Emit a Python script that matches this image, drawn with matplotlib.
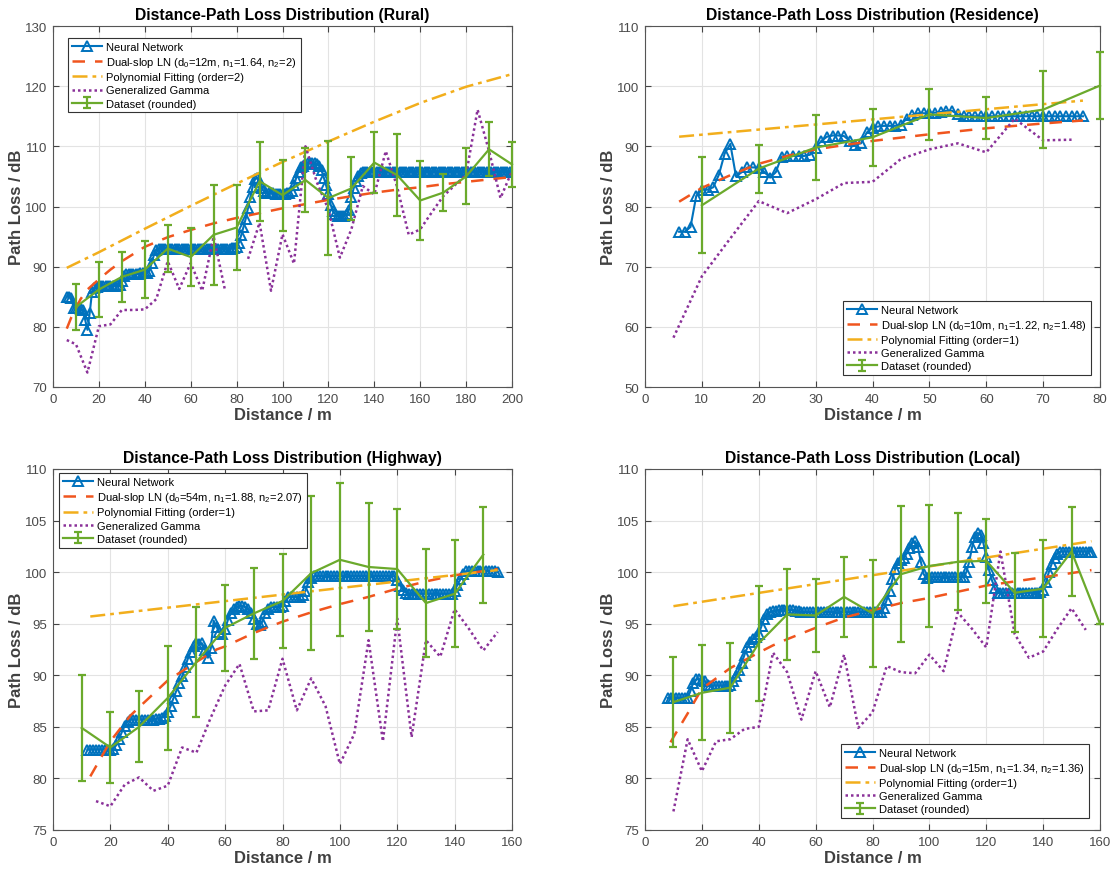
import numpy as np
import matplotlib
matplotlib.use('Agg')
import matplotlib.pyplot as plt

plt.rcParams['font.family'] = ['Liberation Sans', 'DejaVu Sans']
plt.rcParams['mathtext.fontset'] = 'custom'
plt.rcParams['mathtext.rm'] = 'Liberation Sans'
plt.rcParams['mathtext.it'] = 'Liberation Sans:italic'
plt.rcParams['mathtext.bf'] = 'Liberation Sans:bold'

nan = np.nan

# ---------------- Rural ----------------
rural_nn_x = list(range(6, 201))
rural_nn_y = [85.0, 85.0, 84.8, 83.2, 83.2, 83.2, 83.0, 82.8, 81.2, 79.5, 82.3, 85.8, 86.5, 86.7, 86.8,
              86.8, 86.8, 86.8, 86.8, 86.8, 86.8, 86.8, 86.9, 87.0, 87.6,
              88.5, 88.8, 88.8, 88.8, 88.8, 88.8, 88.8, 88.9, 88.9, 88.9,
              89.0, 89.3, 90.6, 92.0, 92.8, 93.0, 93.0, 93.0, 93.0, 93.0,
              93.0, 93.0, 93.0, 93.0, 93.0, 93.0, 93.0, 93.0, 93.0, 93.0,
              93.0, 93.0, 93.0, 93.0, 93.0, 93.0, 93.0, 93.0, 93.0, 93.0,
              93.0, 93.0, 93.0, 93.0, 93.0, 93.0, 93.0, 93.1, 93.1, 93.3,
              94.0, 95.2, 96.6, 98.0, 99.8, 101.6, 103.3, 104.5, 104.8, 104.0,
              103.0, 102.5, 102.3, 102.2, 102.2, 102.2, 102.1, 102.1, 102.1, 102.1,
              102.1, 102.2, 102.3, 102.6, 103.5, 104.8, 105.8, 106.5, 106.8, 107.0,
              107.2, 107.3, 107.3, 107.2, 107.0, 106.8, 106.0, 104.8, 103.5, 102.0,
              100.3, 99.2, 98.7, 98.5, 98.5, 98.5, 98.5, 98.7, 99.5, 101.5,
              103.0, 104.2, 105.0, 105.5, 105.7, 105.8, 105.8, 105.8, 105.8, 105.8,
              105.8, 105.8, 105.8, 105.8, 105.8, 105.8, 105.8, 105.8, 105.8, 105.8,
              105.8, 105.8, 105.8, 105.8, 105.8, 105.8, 105.8, 105.8, 105.8, 105.8,
              105.8, 105.8, 105.8, 105.8, 105.8, 105.8, 105.8, 105.8, 105.8, 105.8,
              105.8, 105.8, 105.8, 105.8, 105.8, 105.8, 105.8, 105.8, 105.8, 105.8,
              105.8, 105.8, 105.8, 105.8, 105.8, 105.8, 105.8, 105.8, 105.8, 105.8,
              105.8, 105.8, 105.8, 105.8, 105.8, 105.8, 105.8, 105.8, 105.8, 105.8]
rural_ds_x = [6, 8, 10, 12, 15, 20, 25, 30, 40, 50, 60, 70, 80, 90, 100, 110, 120, 130, 140, 150, 160, 170, 180, 190, 200]
rural_ds_y = [79.7, 81.6, 83.1, 84.6, 86.2, 87.9, 89.5, 90.9, 93.3, 94.9, 96.1, 97.2, 98.1, 98.9, 99.7,
              100.4, 101.1, 101.7, 102.3, 102.8, 103.2, 103.7, 104.1, 104.5, 104.9]
rural_poly_x = [6, 20, 40, 60, 80, 100, 120, 140, 160, 180, 200]
rural_poly_y = [89.8, 92.4, 96.3, 100.1, 103.8, 107.4, 110.8, 114.1, 117.2, 119.9, 122.0]
rural_gg_x = [6, 10, 15, 20, 25, 30, 35, 40, 45, 50, 55, 60, 65, 70, 75, 80, 85, 90, 95, 100,
              105, 110, 115, 120, 125, 130, 135, 140, 145, 150, 155, 160, 165, 170, 175, 180, 185, 190, 195, 200]
rural_gg_y = [77.8, 77.1, 72.4, 80.1, 80.4, 82.8, 82.8, 82.9, 84.6, 90.9, 86.3, 90.6, 86.0, 95.0, 86.0,
              nan, 91.3, 97.3, 86.0, 95.4, 90.5, 110.0, 104.0, 99.5, 91.5, 96.2, 103.4, 102.0, 109.2, 103.2,
              95.3, 96.2, 99.0, 101.7, 103.5, 105.3, 116.1, 109.2, 101.4, 105.9]
rural_data_x = [10, 20, 30, 40, 50, 60, 70, 80, 90, 100, 110, 120, 130, 140, 150, 160, 170, 180, 190, 200]
rural_data_y = [83.3, 86.2, 88.3, 89.5, 93.0, 91.6, 95.3, 96.5, 104.2, 101.9, 104.4, 101.4, 103.0, 107.3,
                105.2, 101.0, 102.3, 105.0, 109.5, 107.0]
rural_data_err = [3.9, 4.6, 4.2, 4.7, 3.85, 4.8, 8.3, 7.1, 6.6, 5.9, 5.3, 9.45, 5.2, 5.05, 6.85, 6.55,
                  3.1, 4.65, 4.5, 3.75]

# ---------------- Residence ----------------
res_nn_x = list(range(6, 78))
res_nn_y = [75.8, 75.8, 76.6, 81.7, 82.8, 82.8, 83.2, 85.3, 88.8, 90.4, 85.0, 85.7, 86.5, 86.5, 86.4,
            85.7, 84.8, 85.7, 88.3, 88.4, 88.4, 88.4, 88.4, 88.6, 89.8, 90.9, 91.6, 91.8, 91.8, 91.7,
            90.9, 90.3, 90.5, 92.3, 93.1, 93.3, 93.4, 93.4, 93.4, 93.6, 94.6, 95.2, 95.5, 95.5, 95.5,
            95.6, 95.7, 95.9, 95.9, 95.3, 95.0, 95.0, 95.0, 95.0, 95.0, 95.0, 95.0, 95.0, 95.0, 95.0,
            95.0, 95.0, 95.0, 95.0, 95.0, 95.0, 95.0, 95.0, 95.0, 95.0, 95.0, 95.0]
res_ds_x = [6, 10, 15, 20, 25, 30, 40, 50, 60, 70, 77]
res_ds_y = [80.8, 83.1, 85.2, 87.1, 88.4, 89.5, 90.9, 92.0, 93.0, 93.8, 94.3]
res_poly_x = [6, 77]
res_poly_y = [91.6, 97.6]
res_gg_x = [5, 10, 15, 20, 25, 30, 35, 40, 45, 50, 55, 60, 65, 70, 75]
res_gg_y = [58.2, 68.4, 74.7, 80.9, 78.9, 81.2, 83.9, 84.1, 87.9, 89.5, 90.5, 89.0, 94.6, 91.0, 91.1]
res_data_x = [10, 20, 30, 40, 50, 60, 70, 80]
res_data_y = [80.2, 86.3, 89.8, 91.5, 95.3, 94.7, 96.1, 100.1]
res_data_err = [8.0, 4.0, 5.4, 4.75, 4.2, 3.5, 6.4, 5.6]

# ---------------- Highway ----------------
hw_nn_x = list(range(12, 156))
hw_nn_y = [82.8, 82.8, 82.8, 82.8, 82.8, 82.8, 82.8, 82.8, 82.8,
           82.9, 83.2, 83.8, 84.5, 85.1, 85.5, 85.7, 85.7, 85.7, 85.7,
           85.7, 85.7, 85.7, 85.7, 85.7, 85.8, 85.8, 85.9, 86.1, 86.4,
           87.0, 87.8, 88.5, 89.3, 89.9, 90.8, 91.6, 92.3, 92.8, 93.1,
           93.0, 93.1, 92.5, 91.7, 92.6, 95.3, 94.7, 94.2, 94.0, 94.5,
           95.4, 96.0, 96.4, 96.6, 96.7, 96.7, 96.6, 96.4, 96.0, 95.5,
           95.0, 94.9, 95.2, 96.0, 96.4, 96.6, 96.6, 96.6, 96.6, 96.7,
           97.2, 97.6, 97.6, 97.6, 97.6, 97.6, 97.8, 98.2, 99.0, 99.4,
           99.6, 99.6, 99.6, 99.6, 99.6, 99.6, 99.6, 99.6, 99.6, 99.6,
           99.6, 99.6, 99.6, 99.6, 99.6, 99.6, 99.6, 99.6, 99.6, 99.6,
           99.6, 99.6, 99.6, 99.6, 99.6, 99.6, 99.6, 99.6, 99.6, 99.2,
           98.7, 98.3, 98.0, 97.9, 97.9, 97.9, 97.9, 97.9, 97.9, 97.9,
           97.9, 97.9, 97.9, 97.9, 97.9, 97.9, 97.9, 97.9, 97.9, 98.2,
           98.8, 99.3, 99.8, 100.1, 100.1, 100.1, 100.1, 100.1, 100.1, 100.1,
           100.1, 100.1, 100.1, 100.1, 100.0]
hw_ds_x = [13, 20, 27, 30, 40, 50, 57, 60, 70, 80, 90, 100, 110, 120, 130, 140, 155]
hw_ds_y = [80.2, 83.6, 86.1, 86.9, 89.5, 91.3, 92.5, 92.8, 94.1, 95.2, 96.1, 96.9, 97.6, 98.4, 99.1, 99.7, 100.3]
hw_poly_x = [13, 155]
hw_poly_y = [95.7, 100.2]
hw_gg_x = [15, 20, 25, 30, 35, 40, 45, 50, 55, 60, 65, 70, 75, 80, 85, 90, 95, 100, 105, 110,
           115, 120, 125, 130, 135, 140, 145, 150, 155]
hw_gg_y = [77.8, 77.3, 79.4, 80.1, 78.8, 79.3, 83.0, 82.5, 85.9, 89.0, 91.1, 86.5, 86.6, 91.6, 86.6,
           89.7, 87.0, 81.4, 84.3, 93.4, 83.6, 95.5, 84.0, 93.4, 91.8, 96.4, 94.5, 92.4, 94.2]
hw_data_x = [10, 20, 30, 40, 50, 60, 70, 80, 90, 100, 110, 120, 130, 140, 150]
hw_data_y = [84.9, 83.0, 85.0, 87.8, 91.3, 94.6, 96.0, 97.2, 99.9, 101.2, 100.5, 100.3, 97.0, 97.9, 101.7]
hw_data_err = [5.15, 3.45, 3.45, 5.05, 5.3, 4.2, 4.45, 4.6, 7.45, 7.4, 6.25, 5.8, 5.2, 5.2, 4.65]

# ---------------- Local ----------------
loc_nn_x = list(range(8, 158))
loc_nn_y = [87.8, 87.8, 87.8, 87.8, 87.8, 87.8, 87.8, 87.8,
            88.5, 89.3, 89.6, 89.6, 89.5, 89.4, 89.1, 89.0, 89.0, 89.0,
            89.0, 89.0, 89.0, 89.0, 89.1, 89.4, 89.9, 90.5, 91.2, 92.0,
            92.7, 93.2, 93.5, 93.7, 94.0, 94.8, 95.5, 95.9, 96.1, 96.2,
            96.2, 96.3, 96.3, 96.3, 96.3, 96.3, 96.3, 96.2, 96.2, 96.1,
            96.1, 96.1, 96.1, 96.1, 96.1, 96.1, 96.1, 96.1, 96.1, 96.1,
            96.1, 96.1, 96.1, 96.1, 96.1, 96.1, 96.1, 96.1, 96.1, 96.1,
            96.1, 96.1, 96.1, 96.1, 96.1, 96.1, 96.1, 96.1,
            96.5, 97.3, 98.2, 99.3, 100.3, 100.9, 101.2, 101.4, 101.8, 102.3,
            102.8, 103.0, 102.4, 101.0, 99.8, 99.4, 99.5, 99.5, 99.5, 99.5,
            99.5, 99.5, 99.5, 99.5, 99.5, 99.5, 99.5, 99.5, 99.5, 100.0,
            101.0, 102.4, 103.4, 103.8, 103.6, 102.8, 101.5, 100.2, 99.2, 98.5,
            98.0, 98.0, 98.0, 98.0, 98.0, 98.0, 98.0, 98.0, 98.0, 98.0,
            98.0, 98.0, 98.0, 98.0, 98.0, 98.1, 98.3, 99.0, 100.0, 100.8,
            101.4, 101.8, 102.0, 102.0, 102.0, 102.0, 102.0, 102.0, 102.0, 102.0,
            102.0, 102.0, 102.0, 102.0]
loc_ds_x = [9, 10, 15, 20, 30, 40, 45, 50, 60, 70, 80, 90, 100, 110, 120, 130, 140, 157]
loc_ds_y = [83.5, 84.0, 86.3, 88.7, 90.7, 92.2, 92.9, 93.5, 94.6, 95.6, 96.3, 97.0, 97.5, 98.1, 98.7, 99.1, 99.5, 100.2]
loc_poly_x = [10, 157]
loc_poly_y = [96.7, 103.0]
loc_gg_x = [10, 15, 20, 25, 30, 35, 40, 45, 50, 55, 60, 65, 70, 75, 80, 85, 90, 95, 100, 105,
            110, 115, 120, 125, 130, 135, 140, 145, 150, 155]
loc_gg_y = [76.8, 83.8, 80.7, 83.6, 83.8, 84.8, 85.0, 92.2, 90.3, 85.7, 90.4, 86.9, 92.0, 84.9, 86.4,
            90.9, 90.3, 90.2, 92.0, 90.4, 96.1, 94.5, 92.7, 102.0, 94.0, 91.7, 92.3, 94.5, 96.5, 94.4]
loc_data_x = [10, 20, 30, 40, 50, 60, 70, 80, 90, 100, 110, 120, 130, 140, 150, 160]
loc_data_y = [87.4, 88.3, 88.8, 93.1, 95.9, 95.8, 97.6, 96.0, 99.8, 100.6, 101.0, 101.1, 98.0, 98.4, 102.0, 95.0]
loc_data_err = [4.4, 4.6, 4.35, 5.6, 4.45, 3.5, 3.85, 5.15, 6.6, 5.9, 4.7, 4.1, 3.85, 4.7, 4.3, 0.0]

titles = ['Distance-Path Loss Distribution (Rural)', 'Distance-Path Loss Distribution (Residence)',
          'Distance-Path Loss Distribution (Highway)', 'Distance-Path Loss Distribution (Local)']
ds_labels = ['Dual-slop LN (d$_0$=12m, n$_1$=1.64, n$_2$=2)',
             'Dual-slop LN (d$_0$=10m, n$_1$=1.22, n$_2$=1.48)',
             'Dual-slop LN (d$_0$=54m, n$_1$=1.88, n$_2$=2.07)',
             'Dual-slop LN (d$_0$=15m, n$_1$=1.34, n$_2$=1.36)']
poly_labels = ['Polynomial Fitting (order=2)', 'Polynomial Fitting (order=1)',
               'Polynomial Fitting (order=1)', 'Polynomial Fitting (order=1)']

panels = [
    dict(nn=(rural_nn_x, rural_nn_y), ds=(rural_ds_x, rural_ds_y), poly=(rural_poly_x, rural_poly_y),
         gg=(rural_gg_x, rural_gg_y), data=(rural_data_x, rural_data_y, rural_data_err),
         xlim=(0, 200), xt=np.arange(0, 201, 20), ylim=(70, 130), yt=np.arange(70, 131, 10),
         pos=[53, 27, 459, 361], leg=dict(loc='upper left', bbox_to_anchor=(0.033, 0.966))),
    dict(nn=(res_nn_x, res_nn_y), ds=(res_ds_x, res_ds_y), poly=(res_poly_x, res_poly_y),
         gg=(res_gg_x, res_gg_y), data=(res_data_x, res_data_y, res_data_err),
         xlim=(0, 80), xt=np.arange(0, 81, 10), ylim=(50, 110), yt=np.arange(50, 111, 10),
         pos=[645, 27, 455, 361], leg=dict(loc='lower right', bbox_to_anchor=(0.98, 0.033))),
    dict(nn=(hw_nn_x, hw_nn_y), ds=(hw_ds_x, hw_ds_y), poly=(hw_poly_x, hw_poly_y),
         gg=(hw_gg_x, hw_gg_y), data=(hw_data_x, hw_data_y, hw_data_err),
         xlim=(0, 160), xt=np.arange(0, 161, 20), ylim=(75, 110), yt=np.arange(75, 111, 5),
         pos=[53, 470, 459, 361], leg=dict(loc='upper left', bbox_to_anchor=(0.013, 0.988))),
    dict(nn=(loc_nn_x, loc_nn_y), ds=(loc_ds_x, loc_ds_y), poly=(loc_poly_x, loc_poly_y),
         gg=(loc_gg_x, loc_gg_y), data=(loc_data_x, loc_data_y, loc_data_err),
         xlim=(0, 160), xt=np.arange(0, 161, 20), ylim=(75, 110), yt=np.arange(75, 111, 5),
         pos=[645, 470, 455, 361], leg=dict(loc='lower right', bbox_to_anchor=(0.975, 0.033))),
]

W, H = 1111, 870
fig = plt.figure(figsize=(W / 100, H / 100), dpi=100)

C_NN = '#0072BD'
C_DS = '#F0551E'
C_POLY = '#F2AE1C'
C_GG = '#8A3199'
C_DATA = '#6BAA2C'

for i, p in enumerate(panels):
    l, t, w, h = p['pos']
    ax = fig.add_axes([l / W, 1 - (t + h) / H, w / W, h / H])
    ax.plot(*p['nn'], color=C_NN, lw=1.5, marker='^', ms=6.5, mfc='none', mew=1.4,
            label='Neural Network', zorder=3)
    ax.plot(*p['ds'], color=C_DS, lw=1.8, ls=(0, (5, 4)), label=ds_labels[i], zorder=4)
    ax.plot(*p['poly'], color=C_POLY, lw=1.8, ls=(0, (6, 2, 1.5, 2)), label=poly_labels[i], zorder=4)
    ax.plot(*p['gg'], color=C_GG, lw=1.8, ls=(0, (1, 1.2)), label='Generalized Gamma', zorder=4)
    dx, dy, de = p['data']
    ax.errorbar(dx, dy, yerr=de, color=C_DATA, lw=1.6, elinewidth=1.6, capsize=3, capthick=1.6,
                label='Dataset (rounded)', zorder=5, clip_on=False)
    ax.set_xlim(*p['xlim'])
    ax.set_ylim(*p['ylim'])
    ax.set_xticks(p['xt'])
    ax.set_yticks(p['yt'])
    ax.grid(True, color='#e3e3e3', lw=0.8)
    ax.set_axisbelow(True)
    ax.tick_params(direction='in', top=True, right=True, length=4, width=0.8,
                   color='#444444', labelcolor='#4a4a4a', labelsize=9.5, pad=4)
    for s in ax.spines.values():
        s.set_color('#555555')
        s.set_linewidth(0.8)
    ax.set_title(titles[i], fontsize=11.3, fontweight='bold', pad=5)
    ax.set_xlabel('Distance / m', fontsize=12, fontweight='bold', color='#404040', labelpad=2)
    ax.set_ylabel('Path Loss / dB', fontsize=12, fontweight='bold', color='#404040', labelpad=1)
    leg = ax.legend(fontsize=8, fancybox=False, framealpha=1, edgecolor='#333333',
                    handlelength=2.7, borderpad=0.35, labelspacing=0.28, handletextpad=0.4,
                    borderaxespad=0, **p['leg'])
    leg.get_frame().set_linewidth(0.8)
    leg.set_zorder(10)

fig.savefig('out.png', dpi=100)
